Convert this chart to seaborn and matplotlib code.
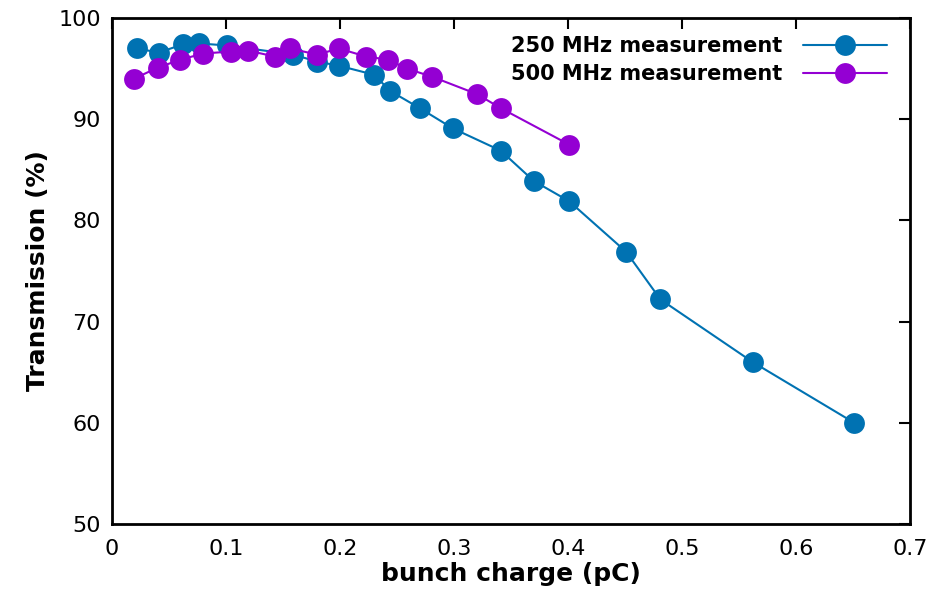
import numpy as np
import pandas as pd
import matplotlib
matplotlib.use('Agg')
import matplotlib.pyplot as plt
import seaborn as sns

# 250 MHz measurement
charge_250 = [0.022, 0.041, 0.062, 0.076, 0.101, 0.159, 0.180, 0.199, 0.230, 0.244,
              0.270, 0.299, 0.341, 0.370, 0.401, 0.451, 0.481, 0.562, 0.651]
trans_250 = [97.0, 96.6, 97.4, 97.5, 97.3, 96.4, 95.7, 95.3, 94.4, 92.8,
             91.1, 89.1, 86.9, 83.9, 81.9, 76.9, 72.2, 66.0, 60.0]

# 500 MHz measurement
charge_500 = [0.019, 0.040, 0.060, 0.080, 0.104, 0.119, 0.143, 0.156, 0.180, 0.199,
              0.223, 0.242, 0.259, 0.281, 0.320, 0.341, 0.401]
trans_500 = [94.0, 95.1, 95.9, 96.5, 96.7, 96.8, 96.2, 97.0, 96.4, 97.0,
             96.2, 95.9, 95.0, 94.2, 92.5, 91.1, 87.5]

df = pd.concat([
    pd.DataFrame({'charge': charge_250, 'trans': trans_250, 'series': '250 MHz measurement'}),
    pd.DataFrame({'charge': charge_500, 'trans': trans_500, 'series': '500 MHz measurement'}),
])

sns.set_style('white', {'text.color': 'black', 'axes.labelcolor': 'black',
                        'xtick.color': 'black', 'ytick.color': 'black'})
plt.rcParams['font.family'] = ['DejaVu Sans']

fig = plt.figure(figsize=(9.45, 6.05), dpi=100)
ax = fig.add_axes([0.1185, 0.134, 0.8445, 0.836])

palette = {'250 MHz measurement': '#0072b2', '500 MHz measurement': '#9400d3'}
sns.lineplot(data=df, x='charge', y='trans', hue='series', palette=palette,
             marker='o', markersize=15, markeredgewidth=0, linewidth=1.5,
             sort=False, ax=ax)

ax.set_xlim(0, 0.7)
ax.set_ylim(50, 100)
ax.set_xticks(np.arange(0, 0.71, 0.1))
ax.set_xticklabels(['0', '0.1', '0.2', '0.3', '0.4', '0.5', '0.6', '0.7'])
ax.set_yticks(np.arange(50, 101, 10))
ax.tick_params(direction='in', length=8, width=1.5, labelsize=16,
               top=True, right=True, pad=8)
ax.tick_params(axis='x', pad=11)
for s in ax.spines.values():
    s.set_linewidth(2)
    s.set_color('black')

ax.set_xlabel('bunch charge (pC)', fontsize=18, fontweight='bold', labelpad=2)
ax.set_ylabel('Transmission (%)', fontsize=18, fontweight='bold', labelpad=6)

leg = ax.legend(loc='upper right', frameon=False, markerfirst=False,
                handlelength=4.0, fontsize=15, borderaxespad=0.45,
                labelspacing=0.4, handletextpad=1.0,
                bbox_to_anchor=(0.993, 1.0))
for t in leg.get_texts():
    t.set_fontweight('bold')

fig.savefig('out.png', dpi=100)
